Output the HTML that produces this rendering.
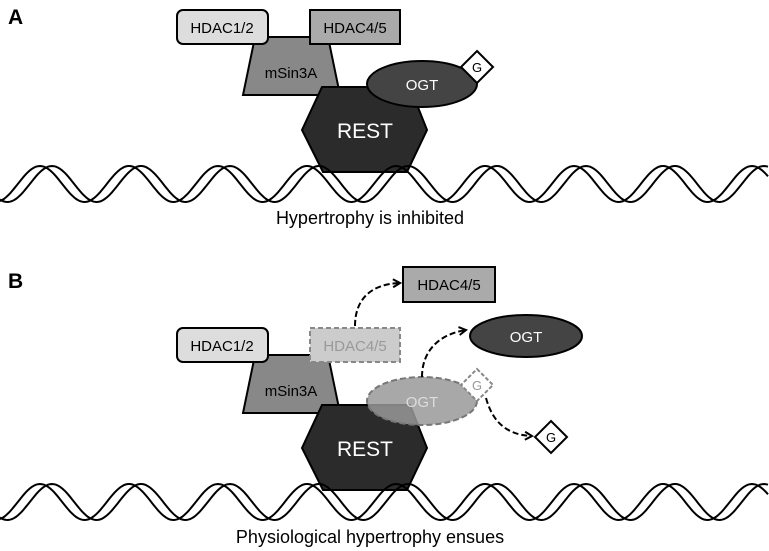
<!DOCTYPE html>
<html><head><meta charset="utf-8"><style>
html,body{margin:0;padding:0;background:#fff}
svg{display:block}
text{font-family:"Liberation Sans",Arial,sans-serif}
</style></head><body>
<svg id="s" width="769" height="551" viewBox="0 0 769 551" xmlns="http://www.w3.org/2000/svg">
<defs>
<marker id="ah" markerWidth="10" markerHeight="10" refX="8" refY="5" orient="auto" markerUnits="userSpaceOnUse">
<path d="M1,1 L8,5 L1,9" fill="none" stroke="#000" stroke-width="2"/>
</marker>
</defs>
<text x="8" y="24" font-size="21" font-weight="bold">A</text>
<text x="8" y="288" font-size="21" font-weight="bold">B</text>

<!-- Panel A -->
<g id="A">
<polygon points="255,37 328,37 340,95 243,95" fill="#888" stroke="#000" stroke-width="2"/>
<rect x="177" y="10" width="91" height="34" rx="6" fill="#ddd" stroke="#000" stroke-width="2"/>
<rect x="310" y="10" width="90" height="34" fill="#aaa" stroke="#000" stroke-width="2"/>
<text x="222" y="33" font-size="15" text-anchor="middle">HDAC1/2</text>
<text x="355" y="33" font-size="15" text-anchor="middle">HDAC4/5</text>
<text x="291" y="78" font-size="15" text-anchor="middle">mSin3A</text>
<polygon points="322,87 410,87 427,130 407,172 323,172 302,130" fill="#2b2b2b" stroke="#000" stroke-width="2"/>
<text x="365" y="138" font-size="21" fill="#fff" text-anchor="middle">REST</text>
<ellipse cx="422" cy="84" rx="55" ry="23" fill="#444" stroke="#000" stroke-width="2"/>
<text x="422" y="90" font-size="15" fill="#fff" text-anchor="middle">OGT</text>
<polygon points="477,51 493,67 477,83 461,67" fill="#fff" stroke="#000" stroke-width="2"/>
<text x="477" y="72" font-size="13" text-anchor="middle">G</text>
<path id="wA1" fill="none" stroke="#000" stroke-width="2"/>
<path id="wA2" fill="none" stroke="#000" stroke-width="2"/>
<text x="370" y="224" font-size="18" text-anchor="middle">Hypertrophy is inhibited</text>
</g>

<!-- Panel B -->
<polygon points="255,355 328,355 340,413 243,413" fill="#888" stroke="#000" stroke-width="2"/>
<rect x="177" y="328" width="91" height="34" rx="6" fill="#ddd" stroke="#000" stroke-width="2"/>
<rect x="310" y="328" width="90" height="34" fill="#ccc" stroke="#888" stroke-width="2" stroke-dasharray="5,3"/>
<text x="222" y="351" font-size="15" text-anchor="middle">HDAC1/2</text>
<text x="355" y="351" font-size="15" fill="#999" text-anchor="middle">HDAC4/5</text>
<text x="291" y="396" font-size="15" text-anchor="middle">mSin3A</text>
<polygon points="322,405 410,405 427,448 407,490 323,490 302,448" fill="#2b2b2b" stroke="#000" stroke-width="2"/>
<text x="365" y="456" font-size="21" fill="#fff" text-anchor="middle">REST</text>
<ellipse cx="422" cy="401" rx="55" ry="24" fill="#999" fill-opacity="0.85" stroke="#777" stroke-width="2" stroke-dasharray="6,3"/>
<text x="422" y="407" font-size="15" fill="#ddd" text-anchor="middle">OGT</text>
<polygon points="477,369 493,385 477,401 461,385" fill="#fff" stroke="#888" stroke-width="2" stroke-dasharray="4,2"/>
<text x="477" y="390" font-size="13" fill="#999" text-anchor="middle">G</text>

<rect x="403" y="267" width="92" height="35" fill="#aaa" stroke="#000" stroke-width="2"/>
<text x="449" y="290" font-size="15" text-anchor="middle">HDAC4/5</text>
<ellipse cx="526" cy="336" rx="56" ry="21" fill="#444" stroke="#000" stroke-width="2"/>
<text x="526" y="342" font-size="15" fill="#fff" text-anchor="middle">OGT</text>
<polygon points="551,421 567,437 551,453 535,437" fill="#fff" stroke="#000" stroke-width="2"/>
<text x="551" y="442" font-size="13" text-anchor="middle">G</text>

<path d="M355,326 C355,300 370,284 400,283" fill="none" stroke="#000" stroke-width="2" stroke-dasharray="6,3" marker-end="url(#ah)"/>
<path d="M422,377 C422,350 440,334 466,330" fill="none" stroke="#000" stroke-width="2" stroke-dasharray="6,3" marker-end="url(#ah)"/>
<path d="M486,398 C492,420 505,435 532,436" fill="none" stroke="#000" stroke-width="2" stroke-dasharray="6,3" marker-end="url(#ah)"/>

<path id="wB1" fill="none" stroke="#000" stroke-width="2"/>
<path id="wB2" fill="none" stroke="#000" stroke-width="2"/>
<text x="370" y="543" font-size="18" text-anchor="middle">Physiological hypertrophy ensues</text>
</svg>
<script>
function w(id,cy,off){var d="";for(var x=0;x<=769;x+=2){var y=cy-18*Math.cos(2*Math.PI*(x-off)/89);d+=(x?"L":"M")+x+","+y.toFixed(1);}document.getElementById(id).setAttribute("d",d);}
w("wA1",184,40);w("wA2",184,52);w("wB1",502,40);w("wB2",502,52);
</script>
</body></html>
